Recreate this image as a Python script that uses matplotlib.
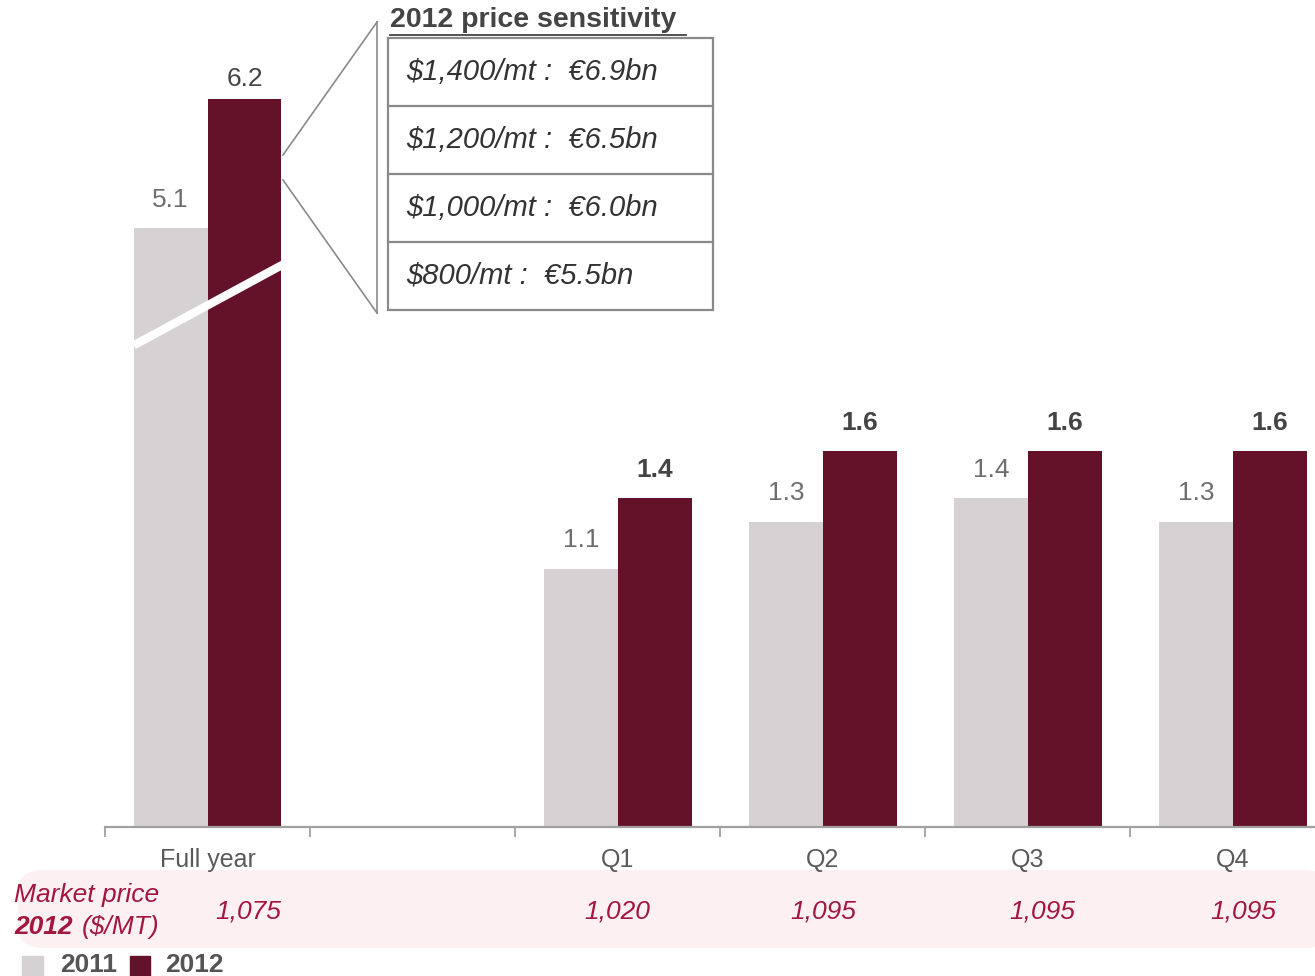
import matplotlib.pyplot as plt
from matplotlib.patches import FancyBboxPatch, Rectangle
from matplotlib.lines import Line2D

plt.rcParams['font.family'] = ['Liberation Sans', 'DejaVu Sans']

# data
categories = ['Full year', '', 'Q1', 'Q2', 'Q3', 'Q4']
vals_2011 = [5.1, None, 1.1, 1.3, 1.4, 1.3]
vals_2012 = [6.2, None, 1.4, 1.6, 1.6, 1.6]
market_price = ['1,075', None, '1,020', '1,095', '1,095', '1,095']
sensitivity = ['$1,400/mt :  €6.9bn', '$1,200/mt :  €6.5bn',
               '$1,000/mt :  €6.0bn', '$800/mt :  €5.5bn']
full_year_scale = 0.5   # full year bars drawn on a broken (half) scale

C11 = '#d6d2d4'
C12 = '#64112a'
RED = '#a3173f'
W, H = 1315, 976

fig = plt.figure(figsize=(W / 100, H / 100), dpi=100)
fig.patch.set_facecolor('white')

def fx(px):
    return px / W

def fy(py):
    return 1 - py / H

# pink market price band (behind everything)
band = FancyBboxPatch((fx(18), fy(948)), fx(1330) - fx(18), fy(870) - fy(948),
                      boxstyle='round,pad=0,rounding_size=0.02',
                      transform=fig.transFigure, facecolor='#fcf0f2',
                      edgecolor='none', zorder=-5)
fig.patches.append(band)

ax = fig.add_axes([fx(105), fy(827), fx(1315) - fx(105), fy(0) - fy(827)])
ax.set_facecolor('none')
ax.set_zorder(1)

bw = 0.36
for i, cat in enumerate(categories):
    if vals_2011[i] is None:
        continue
    scale = full_year_scale if i == 0 else 1.0
    h11 = vals_2011[i] * scale
    h12 = vals_2012[i] * scale
    ax.bar(i - bw / 2, h11, width=bw, color=C11, zorder=2)
    ax.bar(i + bw / 2, h12, width=bw, color=C12, zorder=2)
    ax.text(i - bw / 2, h11 + 0.12, f'{vals_2011[i]:.1f}', ha='center', va='center',
            fontsize=19, color='#6e6e6e')
    ax.text(i + bw / 2, h12 + (0.085 if i == 0 else 0.12), f'{vals_2012[i]:.1f}',
            ha='center', va='center', fontsize=19, color='#444444',
            fontweight='normal' if i == 0 else 'bold')

# white break slash on full year bars
ax.plot([-0.36, 0.38], [2.05, 2.40], color='white', lw=6, solid_capstyle='butt', zorder=3)

# axis styling
for s in ['top', 'right', 'left']:
    ax.spines[s].set_visible(False)
ax.spines['bottom'].set_color('#a0a0a0')
ax.spines['bottom'].set_linewidth(1.6)
ax.set_yticks([])
ax.set_xticks([i - 0.5 for i in range(7)])
ax.set_xticklabels([])
ax.tick_params(axis='x', which='major', length=7, width=1.3, color='#a0a0a0')
ax.set_xticks(range(len(categories)), minor=True)
ax.set_xticklabels(categories, minor=True, fontsize=18, color='#5a5a5a')
ax.tick_params(axis='x', which='minor', length=0, pad=15)
ax.set_xlim(-0.5, 5.4)
ax.set_ylim(0, 3.52)

# market price row
fig.text(fx(14), fy(895), 'Market price', ha='left', va='center', fontsize=19,
         color=RED, style='italic')
fig.text(fx(14), fy(927), '2012', ha='left', va='center', fontsize=19,
         color=RED, style='italic', fontweight='bold')
fig.text(fx(82), fy(927), '($/MT)', ha='left', va='center', fontsize=19,
         color=RED, style='italic')
for i, p in enumerate(market_price):
    if p is None:
        continue
    xoff = 0.2 if i == 0 else (0.07 if i == 4 else 0.05 if i == 5 else 0)
    ax.text(i + xoff, -0.36, p, ha='center', va='center', fontsize=19,
            color=RED, style='italic', clip_on=False)

# legend
fig.patches.append(Rectangle((fx(22), fy(976)), fx(43) - fx(22), fy(956) - fy(976),
                             transform=fig.transFigure, color=C11))
fig.text(fx(60), fy(965), '2011', ha='left', va='center', fontsize=19,
         color='#555555', fontweight='bold')
fig.patches.append(Rectangle((fx(130), fy(976)), fx(150) - fx(130), fy(956) - fy(976),
                             transform=fig.transFigure, color=C12))
fig.text(fx(165), fy(965), '2012', ha='left', va='center', fontsize=19,
         color='#555555', fontweight='bold')

# price sensitivity callout
lc = '#8a8a8a'
for (x0, y0, x1, y1) in [(283, 155, 377, 22), (283, 180, 377, 313), (377, 22, 377, 313)]:
    fig.lines.append(Line2D([fx(x0), fx(x1)], [fy(y0), fy(y1)], transform=fig.transFigure,
                            color=lc, lw=1.2))
top, rowh = 38, 68
fig.patches.append(Rectangle((fx(388), fy(top + 4 * rowh)), fx(713) - fx(388), 4 * rowh / H,
                             transform=fig.transFigure, facecolor='white',
                             edgecolor=lc, lw=1.6))
for k, s in enumerate(sensitivity):
    if k > 0:
        fig.lines.append(Line2D([fx(388), fx(713)], [fy(top + k * rowh)] * 2,
                                transform=fig.transFigure, color=lc, lw=1.6))
    fig.text(fx(406), fy(top + k * rowh + rowh / 2), s, ha='left', va='center',
             fontsize=21, style='italic', color='#333333')
fig.text(fx(390), fy(20), '2012 price sensitivity', ha='left', va='center',
         fontsize=20.5, fontweight='bold', color='#444444')
fig.lines.append(Line2D([fx(390), fx(686)], [fy(35), fy(35)], transform=fig.transFigure,
                        color='#444444', lw=1.3))

fig.savefig('out.png', dpi=100)
